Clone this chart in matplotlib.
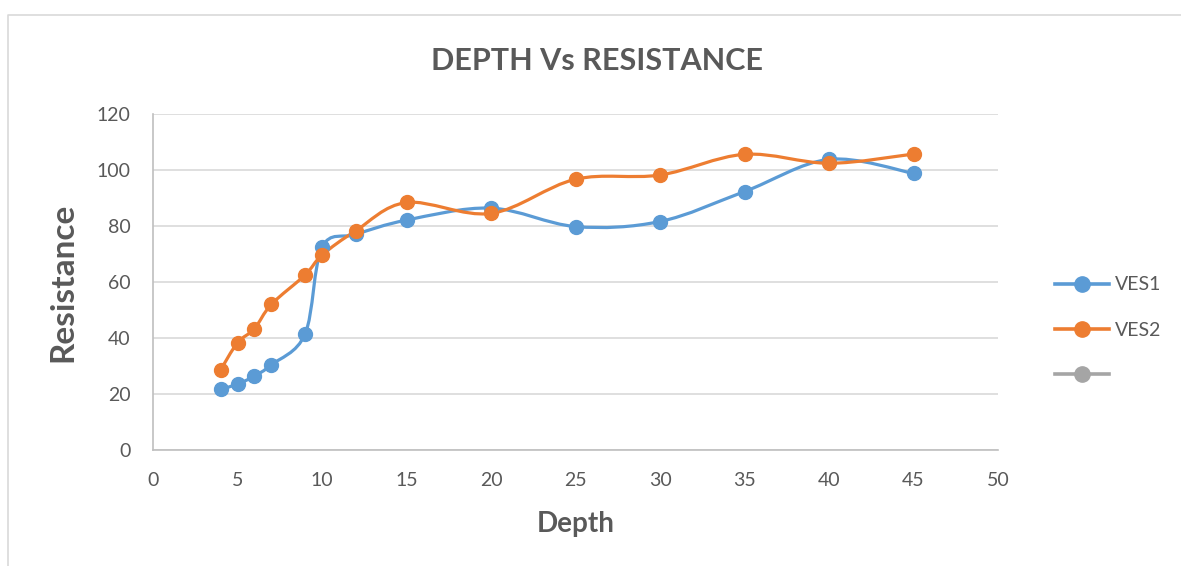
import matplotlib.pyplot as plt
import numpy as np
from matplotlib.path import Path
from matplotlib.patches import PathPatch
from matplotlib.lines import Line2D

# depth values (x) shared by both soundings
depth = [4, 5, 6, 7, 9, 10, 12, 15, 20, 25, 30, 35, 40, 45]
ves1 = [21.7, 23.5, 26.4, 30.4, 41.4, 72.4, 77.0, 82.1, 86.4, 79.8, 81.6, 92.3, 103.8, 98.8]
ves2 = [28.6, 38.3, 43.3, 52.0, 62.5, 69.6, 78.3, 88.4, 84.5, 96.7, 98.2, 105.6, 102.4, 105.7]
series_names = ["VES1", "VES2", ""]

blue = "#5B9BD5"
orange = "#ED7D31"
gray = "#A5A5A5"
txt = "#595959"

plt.rcParams['font.family'] = ['Lato', 'DejaVu Sans']


def smooth_path(ax, x, y, color):
    # Excel style smoothed line: cubic bezier through points (catmull-rom, 1/6)
    pts = np.column_stack([x, y]).astype(float)
    n = len(pts)
    verts = [pts[0]]
    codes = [Path.MOVETO]
    for i in range(n - 1):
        p0 = pts[i - 1] if i > 0 else pts[i]
        p1 = pts[i]
        p2 = pts[i + 1]
        p3 = pts[i + 2] if i + 2 < n else pts[i + 1]
        c1 = p1 + (p2 - p0) / 6.0
        c2 = p2 - (p3 - p1) / 6.0
        verts += [c1, c2, p2]
        codes += [Path.CURVE4] * 3
    patch = PathPatch(Path(verts, codes), facecolor="none", edgecolor=color,
                      lw=2.3, capstyle="round", joinstyle="round", zorder=3)
    ax.add_patch(patch)


fig = plt.figure(figsize=(11.81, 5.66), dpi=100)
ax = fig.add_axes([153 / 1181, 1 - 450 / 566, (998 - 153) / 1181, (450 - 114) / 566])

smooth_path(ax, depth, ves1, blue)
smooth_path(ax, depth, ves2, orange)
ax.plot(depth, ves1, "o", color=blue, ms=10, zorder=4)
ax.plot(depth, ves2, "o", color=orange, ms=10, zorder=4)

ax.set_xlim(0, 50)
ax.set_ylim(0, 120)
ax.set_xticks(range(0, 51, 5))
ax.set_yticks(range(0, 121, 20))
ax.grid(axis="y", color="#D9D9D9", lw=1.2)
ax.set_axisbelow(True)
for s in ["top", "right"]:
    ax.spines[s].set_visible(False)
for s in ["left", "bottom"]:
    ax.spines[s].set_color("#BFBFBF")
    ax.spines[s].set_linewidth(1.2)
ax.tick_params(length=0, labelsize=14, labelcolor=txt)
ax.tick_params(axis="y", pad=16)
ax.tick_params(axis="x", pad=16)

ax.set_xlabel("Depth", fontsize=20, fontweight="bold", color=txt, labelpad=16)
ax.set_ylabel("Resistance", fontsize=24, fontweight="bold", color=txt, labelpad=14)
fig.text(597 / 1181, 1 - 61 / 566, "DEPTH Vs RESISTANCE", fontsize=22, fontweight="bold",
         color=txt, ha="center", va="center")

handles = [Line2D([], [], color=c, lw=2.6, marker="o", ms=11) for c in [blue, orange, gray]]
fig.legend(handles, series_names, loc="center left", bbox_to_anchor=(1037 / 1181, 1 - 330 / 566),
           frameon=False, fontsize=14, labelcolor=txt, handlelength=2.8, labelspacing=1.45,
           handletextpad=0.3)

# faint chart border (only the top and left edges show in the crop)
fig.add_artist(Line2D([8 / 1181, 8 / 1181, 1], [0, 1 - 15 / 566, 1 - 15 / 566],
                      transform=fig.transFigure, color="#D9D9D9", lw=1.2))

fig.savefig("out.png", dpi=100)
